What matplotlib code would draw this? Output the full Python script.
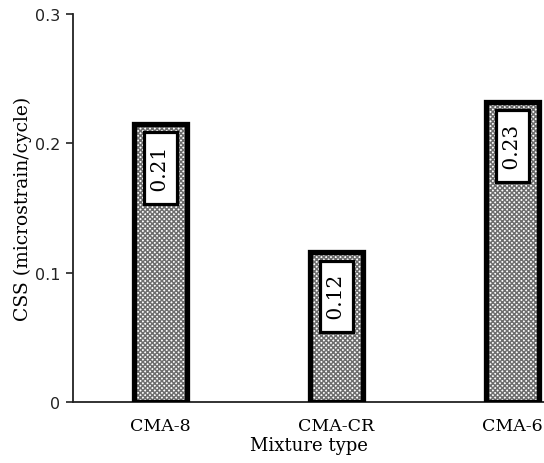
import matplotlib
matplotlib.use("Agg")
import matplotlib.pyplot as plt

# data
mixtures = ["CMA-8", "CMA-CR", "CMA-6"]
css = [0.215, 0.116, 0.232]
css_labels = ["0.21", "0.12", "0.23"]
yticks = [0, 0.1, 0.2, 0.3]
ytick_labels = ["0", "0.1", "0.2", "0.3"]

plt.rcParams["hatch.linewidth"] = 1.1

fig = plt.figure(figsize=(5.44, 4.64), dpi=100)
ax = fig.add_axes([0.134, 0.131, 0.866, 0.837])

x = list(range(1, len(mixtures) + 1))
w = 0.30

# hatched fill (grey pattern) then black outline on top
ax.bar(x, css, width=w, color="white", edgecolor="#6e6e6e", hatch="xxxxxxx", linewidth=0, zorder=2)
ax.bar(x, css, width=w, fill=False, edgecolor="black", linewidth=3.8, zorder=3)

for xi, h, lab in zip(x, css, css_labels):
    ax.text(xi, h - 0.012, " " + lab + " ", rotation=90, ha="center", va="top",
            family="DejaVu Serif", fontsize=14.5, zorder=4,
            bbox=dict(boxstyle="square,pad=0.35", facecolor="white", edgecolor="black", linewidth=2.3))

ax.set_xlim(0.503, 3.18)
ax.set_ylim(0, 0.3)
ax.set_yticks(yticks)
ax.set_yticklabels(ytick_labels, family="DejaVu Sans", fontsize=11.5)
ax.set_xticks(x)
ax.set_xticklabels(mixtures, family="DejaVu Serif", fontsize=12.5)
ax.tick_params(axis="x", length=0, pad=11)
ax.tick_params(axis="y", direction="out", length=5, width=1.2, pad=4, colors="#222222")

ax.set_xlabel("Mixture type", family="DejaVu Serif", fontsize=13, labelpad=1)
ax.set_ylabel("CSS (microstrain/cycle)", family="DejaVu Serif", fontsize=13.5, labelpad=2)

for s in ["top", "right"]:
    ax.spines[s].set_visible(False)
ax.spines["left"].set_linewidth(1.3)
ax.spines["left"].set_color("#222222")
ax.spines["bottom"].set_linewidth(1.3)
ax.spines["bottom"].set_color("#222222")

fig.savefig("out.png", dpi=100)
